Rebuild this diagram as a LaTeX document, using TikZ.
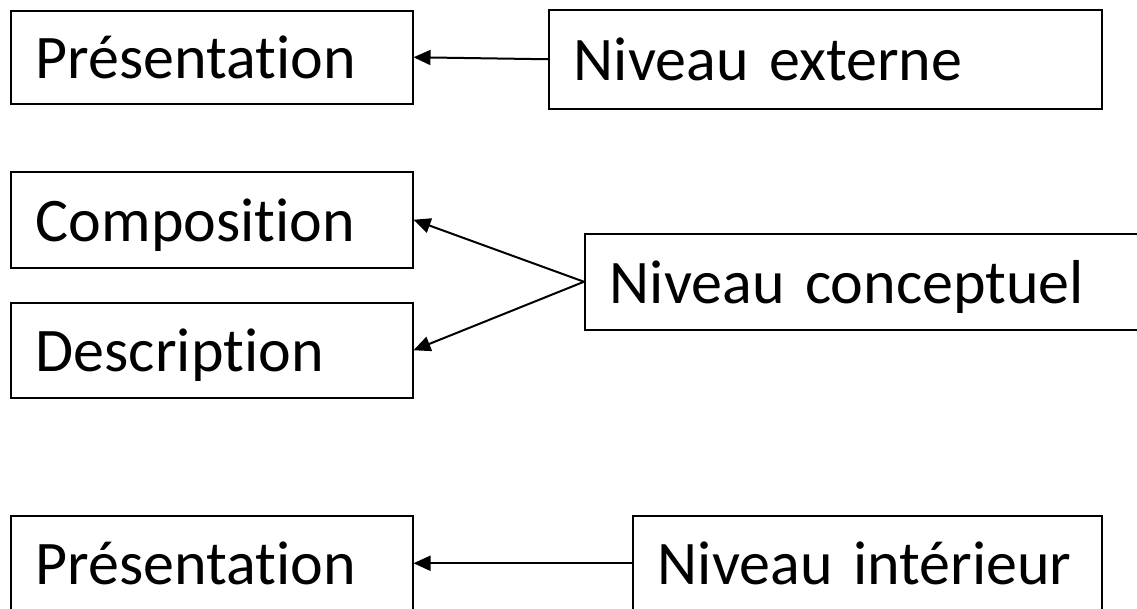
\documentclass[tikz,border=0pt]{standalone}
\usepackage{fontspec}
\setmainfont{Carlito}[Ligatures={NoCommon}]
\usetikzlibrary{arrows.meta}
\begin{document}
\begin{tikzpicture}[x=1pt,y=-1pt]
\tikzset{boite/.style={draw,line width=1.5pt,anchor=north west,inner xsep=25pt,inner ysep=0pt,align=left,font=\fontsize{62}{66}\selectfont,text height=55pt,text depth=12pt},
fleche/.style={line width=2pt,-{Triangle[length=17pt,width=15pt]}}}
\useasboundingbox (0,0) rectangle (1137,608);
\clip (0,0) rectangle (1137,608);
\node[boite,text width=352pt,minimum height=93pt] (pres1) at (10,10) {Présentation};
\node[boite,text width=503pt,minimum height=99pt] (ext) at (548,9) {Niveau externe};
\node[boite,text width=352pt,minimum height=96pt] (comp) at (10,171) {Composition};
\node[boite,text width=352pt,minimum height=95pt] (desc) at (10,302) {Description};
\node[boite,text width=510pt,minimum height=96pt] (concept) at (584,233) {Niveau conceptuel};
\node[boite,text width=352pt,minimum height=95pt] (pres2) at (10,515) {Présentation};
\node[boite,text width=419pt,minimum height=95pt] (inter) at (632,515) {Niveau intérieur};
\draw[fleche] (ext.west) -- (pres1.east);
\draw[fleche] (concept.west) -- (comp.east);
\draw[fleche] (concept.west) -- (desc.east);
\draw[fleche] (inter.west) -- (pres2.east);
\end{tikzpicture}
\end{document}
